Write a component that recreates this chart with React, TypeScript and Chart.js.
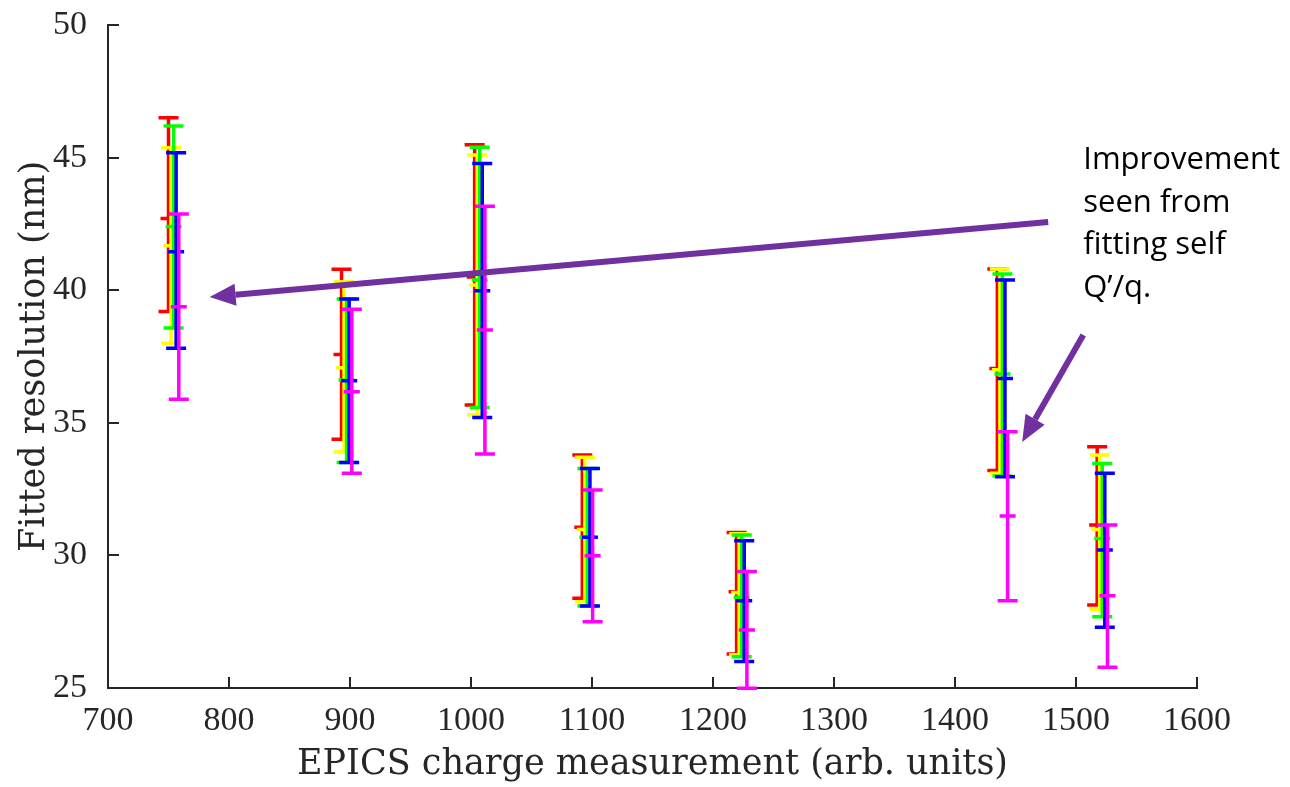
import React, { useEffect, useRef } from "react";
import { Chart, registerables } from "chart.js";

Chart.register(...registerables);

// Charge measurement (x) of each cluster, for the first (red) series
const chargeBase = [750, 893, 1003, 1092, 1219.5, 1435, 1517.5];
// Small x offsets of each series inside a cluster (red, yellow, green, blue, magenta)
const seriesOffset = [0, 2.1, 4.2, 6.3, 8.5];
const seriesColors = ["#FF0000", "#FFFF00", "#00FF00", "#0000FF", "#FF00FF"];

const redMid = [42.7, 37.58, 40.5, 31.06, 28.63, 37.05, 31.15];
const redLow = [39.2, 34.38, 35.67, 28.38, 26.28, 33.2, 28.13];
const redHigh = [46.5, 40.79, 45.48, 33.79, 30.86, 40.8, 34.1];

const yellowMid = [41.68, 37.08, 40.2, 30.98, 28.6, 37.0, 30.98];
const yellowLow = [38.0, 33.9, 35.3, 28.25, 26.25, 33.1, 27.97];
const yellowHigh = [45.37, 40.32, 45.1, 33.7, 30.82, 40.8, 33.79];

const greenMid = [42.4, 36.61, 40.38, 30.68, 28.42, 36.84, 30.64];
const greenLow = [38.57, 33.5, 35.58, 28.09, 26.18, 32.99, 27.69];
const greenHigh = [46.19, 39.67, 45.39, 33.28, 30.77, 40.61, 33.47];

const blueMid = [41.45, 36.59, 39.98, 30.68, 28.29, 36.67, 30.2];
const blueLow = [37.81, 33.5, 35.2, 28.09, 26.0, 32.97, 27.29];
const blueHigh = [45.18, 39.67, 44.78, 33.28, 30.55, 40.38, 33.1];

const magentaMid = [39.38, 36.17, 38.5, 29.99, 27.19, 31.49, 28.48];
const magentaLow = [35.89, 33.1, 33.82, 27.5, 24.99, 28.29, 25.78];
const magentaHigh = [42.87, 39.28, 43.17, 32.47, 29.39, 34.66, 31.15];

const xTicks = [700, 800, 900, 1000, 1100, 1200, 1300, 1400, 1500, 1600];
const yTicks = [25, 30, 35, 40, 45, 50];

// Annotation arrows, in data coordinates: [fromX, fromY, toX, toY]
const arrow1 = [1477, 42.57, 784, 39.74];
const arrow2 = [1506, 38.31, 1455.5, 34.28];
const noteLines = ["Improvement", "seen from", "fitting self", "Q\u2019/q."];
const noteAnchor = [1506, 44.57];

const series = [
  { mid: redMid, low: redLow, high: redHigh },
  { mid: yellowMid, low: yellowLow, high: yellowHigh },
  { mid: greenMid, low: greenLow, high: greenHigh },
  { mid: blueMid, low: blueLow, high: blueHigh },
  { mid: magentaMid, low: magentaLow, high: magentaHigh },
];

const serif = "'Liberation Serif', 'Times New Roman', serif";
const titleSerif = "'DejaVu Serif', 'Liberation Serif', serif";
const axisColor = "#262626";

const errorBarPlugin = {
  id: "errorBars",
  afterDatasetsDraw(chart: any) {
    const { ctx } = chart;
    const xs = chart.scales.x;
    const ys = chart.scales.y;
    ctx.save();
    chart.data.datasets.forEach((ds: any, di: number) => {
      const meta = chart.getDatasetMeta(di);
      ctx.strokeStyle = ds.borderColor;
      ctx.lineWidth = 3.5;
      ctx.lineCap = "butt";
      ds.data.forEach((pt: any, i: number) => {
        const px = meta.data[i].x;
        const pm = meta.data[i].y;
        const pl = ys.getPixelForValue(pt.low);
        const ph = ys.getPixelForValue(pt.high);
        const cap = 10;
        const tick = 8;
        ctx.beginPath();
        ctx.moveTo(px, ph);
        ctx.lineTo(px, pl);
        ctx.moveTo(px - cap, ph);
        ctx.lineTo(px + cap, ph);
        ctx.moveTo(px - cap, pl);
        ctx.lineTo(px + cap, pl);
        ctx.moveTo(px - tick, pm);
        ctx.lineTo(px + tick, pm);
        ctx.stroke();
      });
    });
    // inward ticks
    ctx.strokeStyle = axisColor;
    ctx.lineWidth = 2;
    const area = chart.chartArea;
    ctx.beginPath();
    xTicks.forEach((v) => {
      const p = Math.round(xs.getPixelForValue(v));
      ctx.moveTo(p, area.bottom);
      ctx.lineTo(p, area.bottom - 11);
    });
    yTicks.forEach((v) => {
      const p = Math.round(ys.getPixelForValue(v));
      ctx.moveTo(area.left, p);
      ctx.lineTo(area.left + 11, p);
    });
    ctx.stroke();

    // annotation arrows
    const drawArrow = (a: number[]) => {
      const x1 = xs.getPixelForValue(a[0]);
      const y1 = ys.getPixelForValue(a[1]);
      const x2 = xs.getPixelForValue(a[2]);
      const y2 = ys.getPixelForValue(a[3]);
      const ang = Math.atan2(y2 - y1, x2 - x1);
      const headLen = 26;
      const headW = 11;
      const bx = x2 - headLen * Math.cos(ang);
      const by = y2 - headLen * Math.sin(ang);
      ctx.strokeStyle = "#7030A0";
      ctx.fillStyle = "#7030A0";
      ctx.lineWidth = 6;
      ctx.lineCap = "butt";
      ctx.beginPath();
      ctx.moveTo(x1, y1);
      ctx.lineTo(bx, by);
      ctx.stroke();
      ctx.beginPath();
      ctx.moveTo(x2, y2);
      ctx.lineTo(bx + headW * Math.sin(ang), by - headW * Math.cos(ang));
      ctx.lineTo(bx - headW * Math.sin(ang), by + headW * Math.cos(ang));
      ctx.closePath();
      ctx.fill();
    };
    drawArrow(arrow1);
    drawArrow(arrow2);

    // note text
    ctx.fillStyle = "#000000";
    ctx.font = "31px 'Open Sans', 'Noto Sans', sans-serif";
    ctx.textAlign = "left";
    ctx.textBaseline = "alphabetic";
    const tx = xs.getPixelForValue(noteAnchor[0]);
    const ty = ys.getPixelForValue(noteAnchor[1]);
    noteLines.forEach((t, i) => {
      ctx.fillText(t, tx, ty + i * 42.5);
    });
    ctx.restore();
  },
};

export default function App() {
  const ref = useRef<HTMLCanvasElement | null>(null);
  useEffect(() => {
    if (!ref.current) return;
    const datasets = series.map((s, si) => ({
      label: "s" + si,
      borderColor: seriesColors[si],
      backgroundColor: seriesColors[si],
      pointRadius: 0,
      showLine: false,
      data: chargeBase.map((x, i) => ({
        x: x + seriesOffset[si],
        y: s.mid[i],
        low: s.low[i],
        high: s.high[i],
      })),
    }));
    const chart = new Chart(ref.current, {
      type: "scatter",
      data: { datasets },
      plugins: [errorBarPlugin],
      options: {
        animation: false,
        responsive: false,
        maintainAspectRatio: false,
        layout: { padding: { top: 25, right: 93, left: 0, bottom: 0 } },
        plugins: { legend: { display: false }, tooltip: { enabled: false } },
        scales: {
          x: {
            type: "linear",
            min: 700,
            max: 1600,
            afterFit: (s: any) => {
              s.height = 99;
              s.paddingLeft = 0;
              s.paddingRight = 0;
            },
            afterBuildTicks: (s: any) => {
              s.ticks = xTicks.map((v) => ({ value: v }));
            },
            grid: { display: false },
            border: { display: true, color: axisColor, width: 2 },
            ticks: {
              color: axisColor,
              padding: 5,
              font: { family: serif, size: 34 },
              callback: (v: any) => String(v),
            },
            title: {
              display: true,
              text: "EPICS charge measurement (arb. units)",
              color: axisColor,
              font: { family: titleSerif, size: 35 },
              padding: 1,
            },
          },
          y: {
            type: "linear",
            min: 25,
            max: 50,
            afterFit: (s: any) => {
              s.width = 108;
              s.paddingTop = 0;
              s.paddingBottom = 0;
            },
            afterBuildTicks: (s: any) => {
              s.ticks = yTicks.map((v) => ({ value: v }));
            },
            grid: { display: false },
            border: { display: true, color: axisColor, width: 2 },
            ticks: {
              color: axisColor,
              padding: 13,
              font: { family: serif, size: 34 },
              callback: (v: any) => String(v),
            },
            title: {
              display: true,
              text: "Fitted resolution (nm)",
              color: axisColor,
              font: { family: titleSerif, size: 35 },
              padding: 14,
            },
          },
        },
      },
    });
    return () => chart.destroy();
  }, []);
  return (
    <div style={{ position: "fixed", left: 0, top: 0, width: 1290, height: 787, background: "#fff" }}>
      <canvas ref={ref} width={1290} height={787} style={{ width: 1290, height: 787 }} />
    </div>
  );
}
